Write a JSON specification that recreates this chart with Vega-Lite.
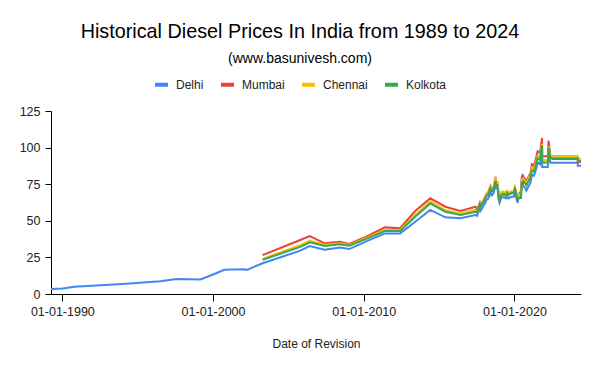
{
  "$schema": "https://vega.github.io/schema/vega-lite/v6.json",
  "width": 530,
  "height": 183,
  "autosize": {"type": "none"},
  "padding": {"left": 51, "top": 111, "right": 19, "bottom": 77},
  "background": "white",
  "title": {
    "text": "Historical Diesel Prices In India from 1989 to 2024",
    "subtitle": "(www.basunivesh.com)",
    "font": "Liberation Sans",
    "subtitleFont": "Liberation Sans",
    "fontSize": 19.8,
    "subtitleFontSize": 14,
    "fontWeight": "normal",
    "color": "#000000",
    "subtitleColor": "#000000",
    "anchor": "middle",
    "frame": "group",
    "dx": -16,
    "offset": 10,
    "subtitlePadding": 10.5
  },
  "data": {
    "values": [
      {"d": "1989-04-01", "Delhi": 3.5},
      {"d": "1990-01-15", "Delhi": 3.7},
      {"d": "1990-10-15", "Delhi": 5.0},
      {"d": "1994-01-01", "Delhi": 6.8},
      {"d": "1996-07-01", "Delhi": 8.7},
      {"d": "1997-08-01", "Delhi": 10.2},
      {"d": "1999-03-01", "Delhi": 9.9},
      {"d": "2000-03-01", "Delhi": 14.0},
      {"d": "2000-10-01", "Delhi": 16.5},
      {"d": "2002-02-01", "Delhi": 16.9},
      {"d": "2002-04-01", "Delhi": 16.5},
      {"d": "2003-04-15", "Delhi": 21.0, "Mumbai": 26.6, "Chennai": 24.0, "Kolkota": 23.3},
      {"d": "2005-10-15", "Delhi": 29.6, "Mumbai": 36.9, "Chennai": 33.4, "Kolkota": 32.2},
      {"d": "2006-06-01", "Delhi": 32.8, "Mumbai": 39.6, "Chennai": 36.3, "Kolkota": 35.3},
      {"d": "2007-06-01", "Delhi": 30.3, "Mumbai": 34.6, "Chennai": 33.7, "Kolkota": 32.8},
      {"d": "2008-06-01", "Delhi": 31.7, "Mumbai": 35.7, "Chennai": 34.7, "Kolkota": 33.9},
      {"d": "2009-01-15", "Delhi": 30.7, "Mumbai": 34.2, "Chennai": 33.6, "Kolkota": 33.0},
      {"d": "2010-03-01", "Delhi": 36.0, "Mumbai": 39.2, "Chennai": 38.3, "Kolkota": 37.7},
      {"d": "2011-06-01", "Delhi": 41.4, "Mumbai": 45.5, "Chennai": 43.7, "Kolkota": 43.0},
      {"d": "2012-06-01", "Delhi": 41.4, "Mumbai": 44.9, "Chennai": 43.7, "Kolkota": 43.0},
      {"d": "2013-06-01", "Delhi": 49.4, "Mumbai": 56.7, "Chennai": 54.0, "Kolkota": 52.8},
      {"d": "2014-06-01", "Delhi": 57.4, "Mumbai": 65.4, "Chennai": 63.3, "Kolkota": 61.9},
      {"d": "2015-06-01", "Delhi": 52.4, "Mumbai": 59.6, "Chennai": 57.3, "Kolkota": 56.2},
      {"d": "2016-06-01", "Delhi": 51.7, "Mumbai": 56.7, "Chennai": 55.0, "Kolkota": 54.0},
      {"d": "2017-06-01", "Delhi": 54.0, "Mumbai": 59.6, "Chennai": 57.4, "Kolkota": 56.2},
      {"d": "2017-07-10", "Delhi": 53.4, "Mumbai": 57.6, "Chennai": 56.2, "Kolkota": 55.6},
      {"d": "2017-09-15", "Delhi": 58.7, "Mumbai": 62.4, "Chennai": 61.8, "Kolkota": 61.4},
      {"d": "2017-10-05", "Delhi": 56.9, "Mumbai": 60.3, "Chennai": 60.0, "Kolkota": 59.6},
      {"d": "2018-01-15", "Delhi": 62.0, "Mumbai": 66.0, "Chennai": 65.4, "Kolkota": 64.7},
      {"d": "2018-02-20", "Delhi": 64.2, "Mumbai": 68.3, "Chennai": 67.7, "Kolkota": 66.8},
      {"d": "2018-04-01", "Delhi": 65.0, "Mumbai": 69.1, "Chennai": 68.6, "Kolkota": 67.7},
      {"d": "2018-05-29", "Delhi": 69.3, "Mumbai": 73.8, "Chennai": 73.2, "Kolkota": 71.9},
      {"d": "2018-07-01", "Delhi": 67.4, "Mumbai": 71.6, "Chennai": 71.1, "Kolkota": 70.0},
      {"d": "2018-08-15", "Delhi": 68.9, "Mumbai": 73.1, "Chennai": 72.8, "Kolkota": 71.8},
      {"d": "2018-10-04", "Delhi": 75.5, "Mumbai": 80.1, "Chennai": 79.9, "Kolkota": 77.3},
      {"d": "2018-10-06", "Delhi": 73.0, "Mumbai": 77.6, "Chennai": 77.1, "Kolkota": 74.8},
      {"d": "2018-11-15", "Delhi": 72.4, "Mumbai": 75.9, "Chennai": 76.5, "Kolkota": 74.3},
      {"d": "2018-12-15", "Delhi": 64.5, "Mumbai": 67.6, "Chennai": 68.2, "Kolkota": 66.4},
      {"d": "2019-01-05", "Delhi": 62.2, "Mumbai": 65.1, "Chennai": 65.7, "Kolkota": 64.0},
      {"d": "2019-02-15", "Delhi": 65.9, "Mumbai": 69.0, "Chennai": 69.7, "Kolkota": 67.7},
      {"d": "2019-04-15", "Delhi": 66.2, "Mumbai": 69.3, "Chennai": 70.0, "Kolkota": 68.0},
      {"d": "2019-06-15", "Delhi": 65.3, "Mumbai": 68.4, "Chennai": 69.0, "Kolkota": 67.1},
      {"d": "2019-07-06", "Delhi": 66.7, "Mumbai": 69.9, "Chennai": 70.5, "Kolkota": 69.0},
      {"d": "2019-08-15", "Delhi": 65.3, "Mumbai": 68.5, "Chennai": 69.0, "Kolkota": 67.7},
      {"d": "2019-10-01", "Delhi": 66.3, "Mumbai": 69.5, "Chennai": 70.1, "Kolkota": 68.7},
      {"d": "2019-12-15", "Delhi": 66.6, "Mumbai": 69.8, "Chennai": 70.4, "Kolkota": 69.0},
      {"d": "2020-01-12", "Delhi": 69.3, "Mumbai": 72.7, "Chennai": 73.2, "Kolkota": 71.8},
      {"d": "2020-02-20", "Delhi": 65.1, "Mumbai": 68.2, "Chennai": 68.7, "Kolkota": 67.4},
      {"d": "2020-03-16", "Delhi": 62.3, "Mumbai": 65.2, "Chennai": 65.7, "Kolkota": 64.6},
      {"d": "2020-05-06", "Delhi": 69.4, "Mumbai": 66.2, "Chennai": 68.2, "Kolkota": 65.6},
      {"d": "2020-06-07", "Delhi": 69.4, "Mumbai": 68.2, "Chennai": 68.2, "Kolkota": 65.6},
      {"d": "2020-06-29", "Delhi": 80.4, "Mumbai": 78.7, "Chennai": 77.7, "Kolkota": 75.6},
      {"d": "2020-07-24", "Delhi": 81.9, "Mumbai": 80.1, "Chennai": 78.9, "Kolkota": 77.0},
      {"d": "2020-07-31", "Delhi": 73.6, "Mumbai": 80.1, "Chennai": 78.9, "Kolkota": 77.0},
      {"d": "2020-09-15", "Delhi": 72.4, "Mumbai": 78.6, "Chennai": 77.1, "Kolkota": 75.9},
      {"d": "2020-10-15", "Delhi": 70.5, "Mumbai": 76.9, "Chennai": 75.9, "Kolkota": 74.0},
      {"d": "2020-12-15", "Delhi": 73.9, "Mumbai": 80.5, "Chennai": 79.2, "Kolkota": 77.4},
      {"d": "2021-01-25", "Delhi": 76.0, "Mumbai": 82.7, "Chennai": 81.1, "Kolkota": 79.6},
      {"d": "2021-02-27", "Delhi": 81.5, "Mumbai": 88.6, "Chennai": 86.5, "Kolkota": 84.4},
      {"d": "2021-04-15", "Delhi": 80.7, "Mumbai": 87.6, "Chennai": 85.8, "Kolkota": 83.6},
      {"d": "2021-05-31", "Delhi": 84.4, "Mumbai": 91.7, "Chennai": 89.0, "Kolkota": 87.2},
      {"d": "2021-07-15", "Delhi": 89.9, "Mumbai": 97.5, "Chennai": 94.4, "Kolkota": 92.8},
      {"d": "2021-09-10", "Delhi": 88.6, "Mumbai": 96.2, "Chennai": 93.3, "Kolkota": 91.7},
      {"d": "2021-10-31", "Delhi": 98.4, "Mumbai": 106.6, "Chennai": 102.6, "Kolkota": 101.6},
      {"d": "2021-11-04", "Delhi": 86.7, "Mumbai": 94.1, "Chennai": 91.4, "Kolkota": 89.8},
      {"d": "2022-03-21", "Delhi": 86.7, "Mumbai": 94.1, "Chennai": 91.4, "Kolkota": 89.8},
      {"d": "2022-04-06", "Delhi": 96.7, "Mumbai": 104.8, "Chennai": 100.9, "Kolkota": 99.8},
      {"d": "2022-05-22", "Delhi": 89.6, "Mumbai": 94.3, "Chennai": 94.2, "Kolkota": 92.8},
      {"d": "2022-07-14", "Delhi": 89.6, "Mumbai": 92.2, "Chennai": 94.2, "Kolkota": 92.8},
      {"d": "2024-03-14", "Delhi": 89.6, "Mumbai": 92.2, "Chennai": 94.2, "Kolkota": 92.8},
      {"d": "2024-03-15", "Delhi": 87.6, "Mumbai": 90.1, "Chennai": 92.3, "Kolkota": 90.8},
      {"d": "2024-06-01", "Delhi": 87.6, "Mumbai": 90.1, "Chennai": 92.3, "Kolkota": 90.8}
    ]
  },
  "transform": [
    {"fold": ["Delhi", "Mumbai", "Chennai", "Kolkota"], "as": ["city", "price"]},
    {"filter": "datum.price != null"}
  ],
  "mark": {"type": "line", "strokeWidth": 2},
  "encoding": {
    "x": {
      "field": "d",
      "type": "temporal",
      "title": "Date of Revision",
      "scale": {
        "type": "utc",
        "domain": [
          {"year": 1989, "month": 4, "date": 1, "utc": true},
          {"year": 2024, "month": 6, "date": 1, "utc": true}
        ]
      },
      "axis": {
        "values": [
          {"year": 1990, "month": 1, "date": 1, "utc": true},
          {"year": 2000, "month": 1, "date": 1, "utc": true},
          {"year": 2010, "month": 1, "date": 1, "utc": true},
          {"year": 2020, "month": 1, "date": 1, "utc": true}
        ],
        "labelExpr": "utcFormat(datum.value, '%d-%m-%Y')",
        "grid": false,
        "domainColor": "#000000",
        "tickColor": "#000000",
        "tickSize": 7,
        "labelPadding": 4,
        "labelFont": "Liberation Sans",
        "labelFontSize": 12.5,
        "labelColor": "#222222",
        "titleFont": "Liberation Sans",
        "titleFontSize": 12,
        "titleFontWeight": "normal",
        "titleColor": "#222222",
        "titlePadding": 21
      }
    },
    "y": {
      "field": "price",
      "type": "quantitative",
      "title": null,
      "scale": {"domain": [0, 125], "nice": false},
      "axis": {
        "values": [0, 25, 50, 75, 100, 125],
        "grid": false,
        "domainColor": "#000000",
        "tickColor": "#000000",
        "tickSize": 6,
        "labelPadding": 5,
        "labelFont": "Liberation Sans",
        "labelFontSize": 12.5,
        "labelColor": "#222222"
      }
    },
    "color": {
      "field": "city",
      "type": "nominal",
      "scale": {
        "domain": ["Delhi", "Mumbai", "Chennai", "Kolkota"],
        "range": ["#4285F4", "#EA4335", "#FBBC04", "#34A853"]
      },
      "legend": {
        "title": null,
        "orient": "none",
        "legendX": 102,
        "legendY": -35,
        "direction": "horizontal",
        "symbolType": "stroke",
        "symbolStrokeWidth": 4,
        "symbolSize": 169,
        "labelFont": "Liberation Sans",
        "labelFontSize": 12,
        "labelColor": "#222222",
        "labelOffset": 6,
        "columnPadding": 9
      }
    }
  },
  "config": {
    "view": {"stroke": null},
    "font": "Liberation Sans"
  }
}
